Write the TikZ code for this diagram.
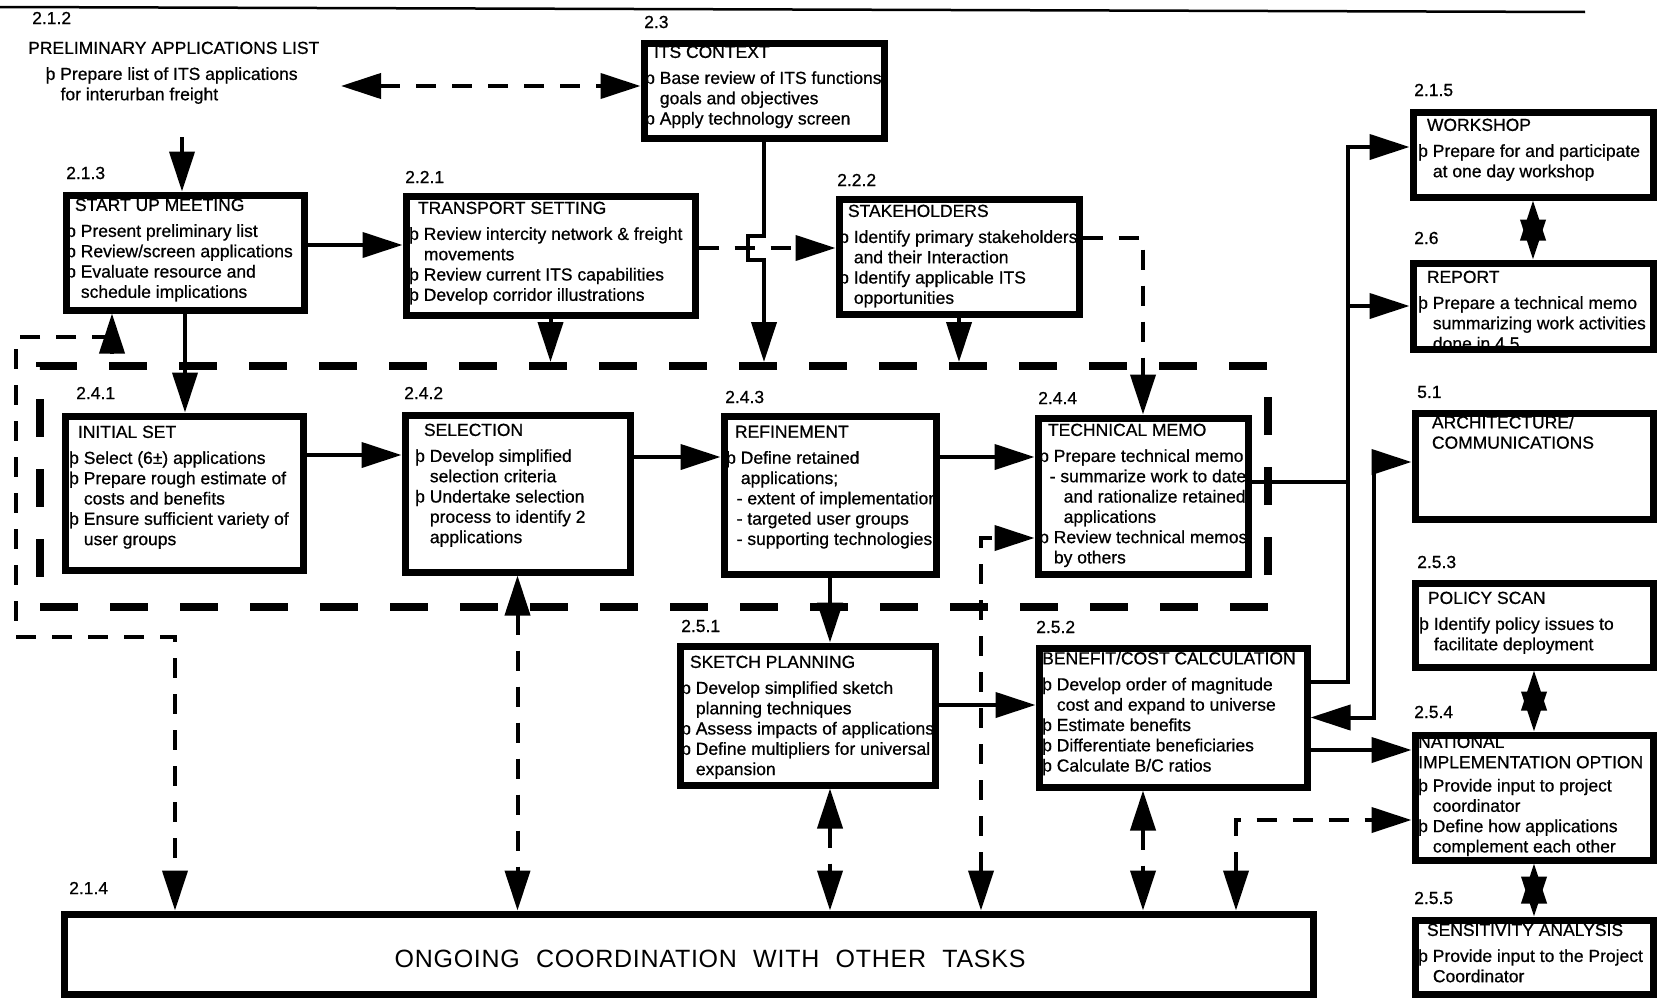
\documentclass[tikz,border=0pt]{standalone}
\usepackage{fontspec}
\setmainfont{Liberation Sans}
\usepackage{tikz}
\usetikzlibrary{arrows.meta, positioning, fit}

\newcommand{\tasksize}{\fontsize{17.5}{20.3}\selectfont\addfontfeature{FakeBold=0.7}}
\newcommand{\itemind}{\hspace*{0.84em}}
\newcommand{\titleind}{\hspace*{0.5em}}

\tikzset{
  tasknum/.style={anchor=west, inner sep=0pt, font=\tasksize},
  tasktext/.style={anchor=north west, inner sep=0pt, align=left, font=\tasksize},
  taskbox/.style={draw, line width=7pt, inner sep=0pt},
  zonebox/.style={draw, line width=8pt, dash pattern=on 38pt off 32pt, inner sep=0pt},
  link/.style={line width=4pt},
  flow/.style={link, -{Triangle[length=40pt, width=25pt]}},
  flowboth/.style={link, {Triangle[length=40pt, width=25pt]}-{Triangle[length=40pt, width=25pt]}},
  dflow/.style={flow, dash pattern=on 20pt off 16pt},
  dboth/.style={flowboth, dash pattern=on 20pt off 16pt}
}

\begin{document}
\begin{tikzpicture}[x=1pt, y=-1pt]
\useasboundingbox (0,0) rectangle (1660,1001);
\draw[line width=2.5pt] (0,7) -- (1585,12);
\node[zonebox, fit={(40,366) (1268,607)}] (zone) {};

\node[tasknum] (n212) at (32,18) {2.1.2};
\node[tasktext] (prelim) at (28,41.5) {PRELIMINARY APPLICATIONS LIST\\[5.7pt]
  \hspace*{1em}þ Prepare list of ITS applications\\
  \hspace*{1.85em}for interurban freight};

\node[tasknum] (n23) at (644,22) {2.3};
\node[tasktext] (itstxt) at (645,45.5) {\titleind ITS CONTEXT\\[5.7pt]
  þ Base review of ITS functions\\ \itemind goals and objectives\\
  þ Apply technology screen};
\node[tasknum] (n213) at (66,173) {2.1.3};
\node[tasktext] (startuptxt) at (66,198.5) {\titleind START UP MEETING\\[5.7pt]
  þ Present preliminary list\\ þ Review/screen applications\\
  þ Evaluate resource and\\ \itemind schedule implications};
\node[tasknum] (n221) at (405,177) {2.2.1};
\node[tasktext] (transporttxt) at (409,201.5) {\titleind TRANSPORT SETTING\\[5.7pt]
  þ Review intercity network \& freight\\ \itemind movements\\
  þ Review current ITS capabilities\\ þ Develop corridor illustrations};
\node[tasknum] (n222) at (837,180) {2.2.2};
\node[tasktext] (staketxt) at (839,204.5) {\titleind STAKEHOLDERS\\[5.7pt]
  þ Identify primary stakeholders\\ \itemind and their Interaction\\
  þ Identify applicable ITS\\ \itemind opportunities};

\node[tasknum] (n241) at (76,393) {2.4.1};
\node[tasktext] (initsettxt) at (69,425.5) {\titleind INITIAL SET\\[5.7pt]
  þ Select (6±) applications\\ þ Prepare rough estimate of\\ \itemind costs and benefits\\
  þ Ensure sufficient variety of\\ \itemind user groups};
\node[tasknum] (n242) at (404,393) {2.4.2};
\node[tasktext] (selecttxt) at (415,423.5) {\titleind SELECTION\\[5.7pt]
  þ Develop simplified\\ \itemind selection criteria\\ þ Undertake selection\\
  \itemind process to identify 2\\ \itemind applications};
\node[tasknum] (n243) at (725,397) {2.4.3};
\node[tasktext] (refinetxt) at (726,425.5) {\titleind REFINEMENT\\[5.7pt]
  þ Define retained\\ \itemind applications;\\ \hspace*{0.6em}- extent of implementation\\
  \hspace*{0.6em}- targeted user groups\\ \hspace*{0.6em}- supporting technologies};
\node[tasknum] (n244) at (1038,398) {2.4.4};
\node[tasktext] (techmemotxt) at (1039,423.5) {\titleind TECHNICAL MEMO\\[5.7pt]
  þ Prepare technical memo\\ \hspace*{0.6em}- summarize work to date\\
  \hspace*{1.4em}and rationalize retained\\ \hspace*{1.4em}applications\\
  þ Review technical memos\\ \itemind by others};

\node[tasknum] (n251) at (681,626) {2.5.1};
\node[tasktext] (sketchtxt) at (681,655.5) {\titleind SKETCH PLANNING\\[5.7pt]
  þ Develop simplified sketch\\ \itemind planning techniques\\
  þ Assess impacts of applications\\ þ Define multipliers for universal\\ \itemind expansion};
\node[tasknum] (n252) at (1036,627) {2.5.2};
\node[tasktext] (benefittxt) at (1042,651.5) {BENEFIT/COST CALCULATION\\[5.7pt]
  þ Develop order of magnitude\\ \itemind cost and expand to universe\\
  þ Estimate benefits\\ þ Differentiate beneficiaries\\ þ Calculate B/C ratios};

\node[tasknum] (n215) at (1414,90) {2.1.5};
\node[tasktext] (workshoptxt) at (1418,118.5) {\titleind WORKSHOP\\[5.7pt]
  þ Prepare for and participate\\ \itemind at one day workshop};
\node[tasknum] (n26) at (1414,238) {2.6};
\node[tasktext] (reporttxt) at (1418,270.5) {\titleind REPORT\\[5.7pt]
  þ Prepare a technical memo\\ \itemind summarizing work activities\\ \itemind done in 4.5};
\node[tasknum] (n51) at (1417,392) {5.1};
\node[tasktext] (archtxt) at (1423,415.5) {\titleind ARCHITECTURE/\\ \titleind COMMUNICATIONS};
\node[tasknum] (n253) at (1417,562) {2.5.3};
\node[tasktext] (policytxt) at (1419,591.5) {\titleind POLICY SCAN\\[5.7pt]
  þ Identify policy issues to\\ \itemind facilitate deployment};
\node[tasknum] (n254) at (1414,712) {2.5.4};
\node[tasktext] (nationaltxt) at (1418,735.5) {NATIONAL\\ IMPLEMENTATION OPTION\\[3pt]
  þ Provide input to project\\ \itemind coordinator\\
  þ Define how applications\\ \itemind complement each other};
\node[tasknum] (n255) at (1414,898) {2.5.5};
\node[tasktext] (sensitivitytxt) at (1418,923.5) {\titleind SENSITIVITY ANALYSIS\\[5.7pt]
  þ Provide input to the Project\\ \itemind Coordinator};

\node[tasknum] (n214) at (69,888) {2.1.4};
\node[font=\fontsize{25}{30}\selectfont\addfontfeature{LetterSpace=3}, inner sep=0pt] (ongoingtxt) at (710,959)
  {ONGOING\hspace{0.65em}COORDINATION\hspace{0.65em}WITH\hspace{0.65em}OTHER\hspace{0.65em}TASKS};

\node[taskbox, fit={(644,43) (884,138)}] (its) {};
\node[taskbox, fit={(66,195) (304,310)}] (startup) {};
\node[taskbox, fit={(406,196) (695,315)}] (transport) {};
\node[taskbox, fit={(839,199) (1079,314)}] (stake) {};
\node[taskbox, fit={(65,416) (303,570)}] (initset) {};
\node[taskbox, fit={(405,415) (630,572)}] (select) {};
\node[taskbox, fit={(724,416) (936,574)}] (refine) {};
\node[taskbox, fit={(1038,418) (1248,574)}] (techmemo) {};
\node[taskbox, fit={(680,646) (935,785)}] (sketch) {};
\node[taskbox, fit={(1039,648) (1307,787)}] (benefit) {};
\node[taskbox, fit={(1413,112) (1653,197)}] (workshop) {};
\node[taskbox, fit={(1413,263) (1653,349)}] (report) {};
\node[taskbox, fit={(1415,413) (1653,519)}] (arch) {};
\node[taskbox, fit={(1415,583) (1653,667)}] (policy) {};
\node[taskbox, fit={(1415,735) (1653,860)}] (national) {};
\node[taskbox, fit={(1415,920) (1653,994)}] (sensitivity) {};
\node[taskbox, fit={(64,914) (1313,994)}] (ongoing) {};

\coordinate (prelimdown) at (182,137);
\coordinate (prelimside) at (341,86);
\coordinate (loopend) at (112,337);
\coordinate (loopup) at (112,354);
\coordinate (bus) at (1348,482);
\coordinate (archbend) at (1374,462);

\draw[flow] (prelimdown) -- (prelimdown |- startup.north);
\draw[dboth] (prelimside) -- (prelimside -| its.west);
\draw[flow] (startup.east |- 0,245) -- (transport.west |- 0,245);
\draw[flow] (its.south) -- (its.south |- 0,236) -- ++(-16,0) -- ++(0,24) -- ++(16,0) -- (its.south |- zone.north);
\draw[dflow] (transport.east |- 0,248) -- (stake.west |- 0,248);
\draw[dflow] (stake.east |- 0,238) -| (techmemo.north);
\draw[flow] (transport.south) -- (transport.south |- zone.north);
\draw[flow] (stake.south) -- (stake.south |- zone.north);
\draw[flow] (startup.south) -- (startup.south |- initset.north);
\draw[dflow] (loopend) -- (16,337) |- (175,637) -- (175,0 |- ongoing.north);
\draw[flow] (loopup) -- (loopup |- startup.south);

\draw[flow] (initset.east |- 0,455) -- (select.west |- 0,455);
\draw[flow] (select.east |- 0,457) -- (refine.west |- 0,457);
\draw[flow] (refine.east |- 0,457) -- (techmemo.west |- 0,457);
\draw[dboth] (981,0 |- ongoing.north) |- (techmemo.west |- 0,538);
\draw[flow] (refine.south) -- (refine.south |- sketch.north);
\draw[flow] (sketch.east |- 0,705) -- (benefit.west |- 0,705);
\draw[link] (techmemo.east |- bus) -- (bus);
\draw[flow] (benefit.east |- 0,682) -| (bus |- 0,147) -- (workshop.west |- 0,147);
\draw[flow] (bus |- report.west) -- (report.west);
\draw[flowboth] (benefit.east) -| (archbend) -- (arch.west |- archbend);
\draw[flow] (benefit.east |- 0,750) -- (national.west |- 0,750);
\draw[dboth] (1236,0 |- ongoing.north) |- (national.west |- 0,820);
\draw[dboth] (select.south) -- (select.south |- ongoing.north);
\draw[dboth] (refine.south |- sketch.south) -- (refine.south |- ongoing.north);
\draw[dboth] (techmemo.south |- benefit.south) -- (techmemo.south |- ongoing.north);
\draw[flowboth] (workshop.south) -- (report.north);
\draw[flowboth] (policy.south) -- (national.north);
\draw[flowboth] (national.south) -- (sensitivity.north);
\end{tikzpicture}
\end{document}
